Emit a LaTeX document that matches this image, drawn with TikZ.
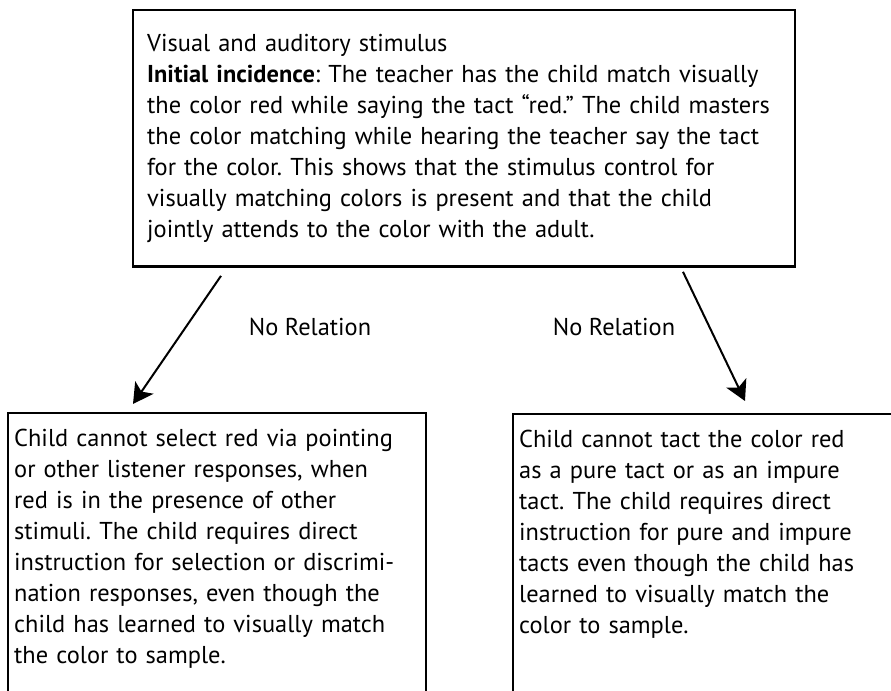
\documentclass[tikz,border=0pt]{standalone}
\usepackage{fontspec}
\setmainfont{PT Sans}
\usetikzlibrary{positioning,arrows.meta}

\tikzset{
  textbox/.style={draw, line width=1.2pt, anchor=north west, align=left, inner ysep=8pt, inner xsep=3pt, font=\fontsize{12.2}{15.5}\selectfont},
  relarrow/.style={line width=1pt, -{Stealth[length=10pt,width=11pt,inset=2.5pt]}},
  relabel/.style={font=\fontsize{12.2}{15.5}\selectfont}
}

\begin{document}
\frenchspacing
\begin{tikzpicture}[x=0.5pt, y=-0.5pt]

% frame
\useasboundingbox (0,0) rectangle (891,691);
\clip (0,0) rectangle (891,691);

% boxes
\node [textbox, inner xsep=7pt, inner ysep=12pt, text width=317pt] (stimulus) at (132,9) {Visual and auditory stimulus\\
\textbf{Initial incidence}: The teacher has the child match visually\\
the color red while saying the tact “red.” The child masters\\
the color matching while hearing the teacher say the tact\\
for the color. This shows that the stimulus control for\\
visually matching colors is present and that the child\\
jointly attends to the color with the adult.};

\node [textbox, text width=203pt] (selectbox) at (7,412) {Child cannot select red via pointing\\
or other listener responses, when\\
red is in the presence of other\\
stimuli. The child requires direct\\
instruction for selection or discrimi-\\
nation responses, even though the\\
child has learned to visually match\\
the color to sample.\\ ~};

\node [textbox, text width=200pt] (tactbox) at (512,413) {Child cannot tact the color red\\
as a pure tact or as an impure\\
tact. The child requires direct\\
instruction for pure and impure\\
tacts even though the child has\\
learned to visually match the\\
color to sample.\\ ~\\ ~};

% labels
\node [relabel] (norel1) at (310,327) {No Relation};
\node [relabel] (norel2) at (614,327) {No Relation};

% arrows
\draw [relarrow] ([shift={(89,8)}]stimulus.south west) -- ([shift={(126,-8)}]selectbox.north west);
\draw [relarrow] ([shift={(551,4)}]stimulus.south west) -- ([shift={(233,-12)}]tactbox.north west);

\end{tikzpicture}
\end{document}
